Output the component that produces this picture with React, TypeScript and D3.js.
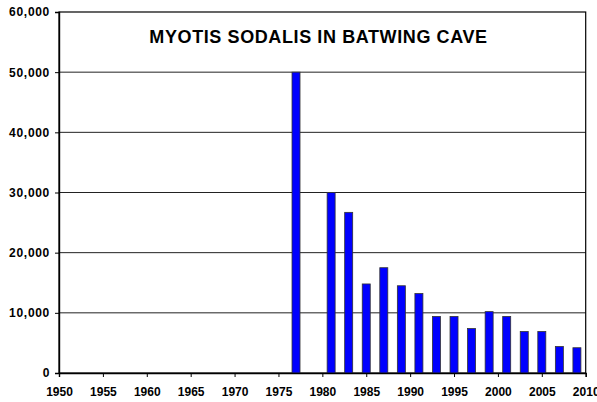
import React, { useEffect, useRef } from 'react';
import * as d3 from 'd3';

const years = [1977, 1981, 1983, 1985, 1987, 1989, 1991, 1993, 1995, 1997, 1999, 2001, 2003, 2005, 2007, 2009];
const counts = [50000, 30000, 26700, 14800, 17500, 14500, 13200, 9400, 9400, 7400, 10200, 9400, 6900, 6900, 4400, 4200];
const xTicks = [1950, 1955, 1960, 1965, 1970, 1975, 1980, 1985, 1990, 1995, 2000, 2005, 2010];
const yTicks = [0, 10000, 20000, 30000, 40000, 50000, 60000];
const title = 'MYOTIS SODALIS IN BATWING CAVE';

const W = 597, H = 402;
const margin = { top: 12, right: 11.3, bottom: 29, left: 59 };

export default function App() {
  const ref = useRef<SVGSVGElement>(null);

  useEffect(() => {
    const svg = d3.select(ref.current);
    svg.selectAll('*').remove();

    const x = d3.scaleLinear().domain([1950, 2010]).range([margin.left, W - margin.right]);
    const y = d3.scaleLinear().domain([0, 60000]).range([H - margin.bottom, margin.top]);
    const barW = 8;
    const font = 'Arial, "Liberation Sans", sans-serif';

    svg.append('rect').attr('width', W).attr('height', H).attr('fill', '#fff');

    // gridlines
    svg.append('g')
      .selectAll('line')
      .data(yTicks.filter(d => d > 0 && d < 60000))
      .enter().append('line')
      .attr('x1', x(1950)).attr('x2', x(2010))
      .attr('y1', d => y(d)).attr('y2', d => y(d))
      .attr('stroke', '#222').attr('stroke-width', 1);

    // plot frame
    svg.append('rect')
      .attr('x', x(1950)).attr('y', y(60000))
      .attr('width', x(2010) - x(1950)).attr('height', y(0) - y(60000))
      .attr('fill', 'none').attr('stroke', '#000').attr('stroke-width', 1.2);

    // bars
    svg.append('g')
      .selectAll('rect')
      .data(years.map((yr, i) => ({ yr, v: counts[i] })))
      .enter().append('rect')
      .attr('x', d => x(d.yr) - barW / 2)
      .attr('y', d => y(d.v))
      .attr('width', barW)
      .attr('height', d => y(0) - y(d.v))
      .attr('fill', '#0000ff')
      .attr('stroke', '#333')
      .attr('stroke-width', 0.8);

    // axes
    const yAxis = d3.axisLeft(y).tickValues(yTicks).tickSize(4).tickPadding(5)
      .tickFormat(d => d3.format(',')(d as number));
    const gy = svg.append('g').attr('transform', `translate(${x(1950)},0)`).call(yAxis);
    gy.select('.domain').attr('stroke', '#000').attr('stroke-width', 1.4);
    gy.selectAll('.tick line').attr('stroke', '#000');
    gy.selectAll('text').attr('font-family', font).attr('font-weight', 'bold')
      .attr('font-size', 12).attr('letter-spacing', 0.7).attr('fill', '#000');

    const xAxis = d3.axisBottom(x).tickValues(xTicks).tickSize(4).tickPadding(10.5)
      .tickFormat(d => String(d));
    const gx = svg.append('g').attr('transform', `translate(0,${y(0)})`).call(xAxis);
    gx.select('.domain').attr('stroke', '#000').attr('stroke-width', 1.4);
    gx.selectAll('.tick line').attr('stroke', '#000');
    gx.selectAll('text').attr('font-family', font).attr('font-weight', 'bold')
      .attr('font-size', 12).attr('fill', '#000');

    svg.append('text')
      .attr('x', 318.5).attr('y', 42.7)
      .attr('text-anchor', 'middle')
      .attr('font-family', font).attr('font-weight', 'bold').attr('font-size', 18)
      .attr('letter-spacing', 0.6)
      .attr('fill', '#000')
      .text(title);
  }, []);

  return (
    <div style={{ position: 'absolute', left: 0, top: 0 }}>
      <svg ref={ref} width={W} height={H} style={{ display: 'block' }} />
    </div>
  );
}
